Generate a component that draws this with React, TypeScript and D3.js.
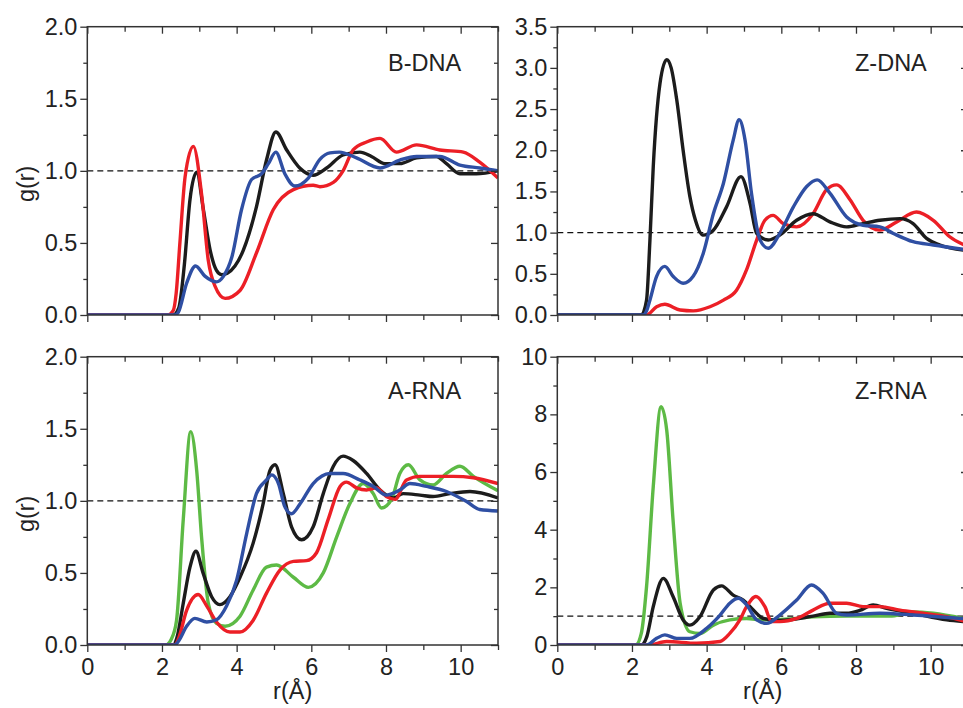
import React, { useRef, useEffect } from 'react';
import * as d3 from 'd3';

// g(r) curves as [r, g] pairs
const bdnaBlack = [[0,0],[2.3,0],[2.45,0.05],[2.6,0.35],[2.75,0.8],[2.93,0.99],[3.11,0.73],[3.29,0.45],[3.46,0.31],[3.6,0.28],[3.75,0.29],[4.18,0.45],[4.53,0.75],[4.8,1.075],[5.05,1.27],[5.34,1.145],[5.69,1.02],[6.05,0.97],[6.41,1.02],[6.85,1.11],[7.3,1.13],[7.61,1.1],[7.97,1.05],[8.37,1.05],[8.82,1.09],[9.35,1.1],[9.62,1.05],[9.98,0.98],[10.42,0.98],[11,1.0]];
const bdnaRed = [[0,0],[2.15,0],[2.3,0.03],[2.38,0.15],[2.48,0.5],[2.62,0.96],[2.84,1.17],[3.06,0.84],[3.24,0.38],[3.42,0.2],[3.69,0.115],[4.09,0.17],[4.53,0.43],[4.98,0.73],[5.52,0.87],[6.05,0.9],[6.23,0.89],[6.59,0.92],[6.85,1.0],[7.12,1.145],[7.48,1.2],[7.84,1.225],[8.28,1.13],[8.82,1.18],[9.44,1.145],[10.07,1.13],[10.51,1.06],[11,0.95]];
const bdnaBlue = [[0,0],[2.35,0],[2.44,0.02],[2.66,0.22],[2.9,0.34],[3.15,0.27],[3.46,0.23],[3.65,0.27],[3.87,0.4],[4.13,0.73],[4.4,0.94],[4.67,0.98],[4.85,1.05],[5.05,1.13],[5.29,0.98],[5.56,0.895],[5.92,0.95],[6.23,1.08],[6.5,1.125],[6.75,1.13],[7.21,1.09],[7.84,1.02],[8.37,1.075],[8.82,1.1],[9.44,1.1],[9.98,1.04],[10.51,1.02],[11,1.0]];

const zdnaBlack = [[0,0],[2.25,0],[2.39,0.18],[2.48,0.9],[2.57,1.8],[2.75,2.81],[2.93,3.1],[3.05,3.0],[3.2,2.61],[3.37,2.0],[3.55,1.44],[3.7,1.15],[3.9,0.97],[4.18,1.03],[4.53,1.31],[4.92,1.68],[5.16,1.36],[5.34,0.99],[5.65,0.91],[5.96,0.97],[6.41,1.15],[6.85,1.23],[7.3,1.13],[7.75,1.07],[8.19,1.11],[8.64,1.15],[9.18,1.17],[9.53,1.11],[9.89,0.93],[10.25,0.85],[11,0.78]];
const zdnaRed = [[0,0],[2.39,0],[2.66,0.1],[2.88,0.13],[3.29,0.06],[3.64,0.05],[4.09,0.1],[4.45,0.18],[4.8,0.3],[5.07,0.55],[5.34,0.91],[5.56,1.15],[5.78,1.21],[6.05,1.11],[6.41,1.07],[6.85,1.23],[7.21,1.52],[7.48,1.58],[7.84,1.4],[8.19,1.15],[8.64,1.03],[9.09,1.13],[9.62,1.25],[10.07,1.15],[10.51,0.95],[11,0.83]];
const zdnaBlue = [[0,0],[2.3,0],[2.39,0.05],[2.48,0.18],[2.66,0.47],[2.88,0.59],[3.1,0.47],[3.37,0.385],[3.64,0.47],[3.91,0.75],[4.18,1.23],[4.45,1.6],[4.71,2.12],[4.87,2.37],[5.03,2.12],[5.2,1.48],[5.43,0.91],[5.65,0.81],[5.96,0.99],[6.32,1.31],[6.68,1.56],[6.96,1.64],[7.3,1.48],[7.75,1.19],[8.19,1.09],[8.64,1.07],[9.0,0.99],[9.53,0.89],[10.07,0.85],[11,0.79]];

const arnaGreen = [[0,0],[2.1,0],[2.25,0.04],[2.39,0.17],[2.57,0.87],[2.77,1.48],[2.93,1.21],[3.06,0.75],[3.24,0.29],[3.46,0.15],[3.69,0.13],[4.09,0.2],[4.44,0.38],[4.8,0.54],[5.07,0.555],[5.52,0.47],[5.92,0.4],[6.32,0.5],[6.68,0.75],[7.03,0.98],[7.39,1.12],[7.66,1.05],[7.88,0.95],[8.15,1.01],[8.37,1.19],[8.6,1.25],[8.91,1.145],[9.26,1.11],[9.62,1.19],[9.98,1.24],[10.34,1.17],[11,1.07]];
const arnaBlack = [[0,0],[2.3,0],[2.4,0.05],[2.57,0.29],[2.75,0.54],[2.91,0.65],[3.1,0.5],[3.33,0.335],[3.55,0.28],[3.82,0.335],[4.09,0.47],[4.44,0.705],[4.71,0.98],[4.89,1.21],[5.03,1.25],[5.25,1.05],[5.47,0.82],[5.74,0.73],[6.05,0.82],[6.32,1.05],[6.59,1.24],[6.85,1.31],[7.12,1.28],[7.48,1.19],[7.84,1.075],[8.19,1.02],[8.46,1.05],[8.91,1.04],[9.26,1.03],[9.71,1.05],[10.25,1.065],[11,1.02]];
const arnaRed = [[0,0],[2.35,0],[2.45,0.05],[2.66,0.24],[2.97,0.35],[3.2,0.27],[3.46,0.16],[3.82,0.09],[4.09,0.09],[4.44,0.17],[4.8,0.36],[5.16,0.52],[5.52,0.58],[5.87,0.585],[6.14,0.64],[6.45,0.87],[6.77,1.1],[6.94,1.13],[7.21,1.09],[7.48,1.075],[7.75,1.09],[8.01,1.03],[8.24,1.01],[8.55,1.145],[8.91,1.17],[9.8,1.17],[10.34,1.16],[11,1.12]];
const arnaBlue = [[0,0],[2.35,0],[2.45,0.03],[2.66,0.13],[2.88,0.185],[3.2,0.16],[3.46,0.175],[3.73,0.27],[4.0,0.45],[4.27,0.775],[4.53,1.05],[4.8,1.145],[4.94,1.18],[5.12,1.12],[5.29,0.96],[5.47,0.91],[5.7,0.98],[6.05,1.12],[6.5,1.19],[6.85,1.19],[7.3,1.145],[7.66,1.1],[8.01,1.04],[8.37,1.075],[8.64,1.12],[9.09,1.1],[9.62,1.065],[10.16,0.995],[10.51,0.94],[11,0.93]];

const zrnaGreen = [[0,0],[2.1,0],[2.25,0.4],[2.39,2.02],[2.57,5.49],[2.78,8.27],[2.93,7.46],[3.1,4.34],[3.29,1.45],[3.55,0.46],[3.82,0.4],[4.18,0.69],[4.62,0.87],[5.07,0.92],[5.52,0.87],[6.2,0.9],[6.85,0.98],[7.75,1.0],[8.9,1.0],[9.53,1.15],[10.07,1.1],[11,0.88]];
const zrnaBlack = [[0,0],[2.25,0],[2.4,0.3],[2.57,1.33],[2.84,2.31],[3.1,1.68],[3.37,0.87],[3.55,0.69],[3.82,0.98],[4.18,1.91],[4.4,2.05],[4.71,1.73],[4.98,1.56],[5.25,1.21],[5.52,0.92],[5.96,0.85],[6.85,1.0],[7.3,1.1],[7.75,1.1],[8.1,1.2],[8.46,1.39],[8.82,1.27],[9.53,1.1],[10.43,0.87],[11,0.8]];
const zrnaRed = [[0,0],[2.43,0],[2.93,0.12],[3.73,0.06],[4.36,0.12],[4.62,0.4],[4.89,0.87],[5.07,1.33],[5.32,1.68],[5.56,1.33],[5.74,0.81],[5.96,0.81],[6.41,0.92],[6.85,1.21],[7.3,1.45],[7.75,1.45],[8.19,1.33],[8.64,1.33],[9.18,1.21],[9.8,1.1],[10.43,0.98],[11,0.8]];
const zrnaBlue = [[0,0],[2.39,0],[2.66,0.23],[2.88,0.35],[3.2,0.23],[3.55,0.23],[4.0,0.58],[4.36,1.04],[4.62,1.45],[4.85,1.62],[5.07,1.39],[5.34,0.87],[5.61,0.75],[5.96,1.04],[6.41,1.56],[6.81,2.08],[7.12,1.79],[7.48,1.1],[7.75,1.04],[8.64,1.1],[9.53,1.04],[11,0.9]];

const xMajor = [0, 2, 4, 6, 8, 10];
const xMinor = [1, 3, 5, 7, 9, 11];

const COLORS = { black: '#1c1c1c', red: '#ec1f26', blue: '#2f4fa3', green: '#5dba45' };
const FONT = "'Liberation Sans', Arial, sans-serif";
const FS = 23.5;

const panels = [
  { title: 'B-DNA', col: 0, row: 0, yMax: 2, yMajor: [0, 0.5, 1, 1.5, 2], yMinor: [0.25, 0.75, 1.25, 1.75], fmt: '.1f',
    lines: [[bdnaBlack, 'black'], [bdnaRed, 'red'], [bdnaBlue, 'blue']] },
  { title: 'Z-DNA', col: 1, row: 0, yMax: 3.5, yMajor: [0, 0.5, 1, 1.5, 2, 2.5, 3, 3.5], yMinor: [0.25, 0.75, 1.25, 1.75, 2.25, 2.75, 3.25], fmt: '.1f',
    lines: [[zdnaRed, 'red'], [zdnaBlack, 'black'], [zdnaBlue, 'blue']] },
  { title: 'A-RNA', col: 0, row: 1, yMax: 2, yMajor: [0, 0.5, 1, 1.5, 2], yMinor: [0.25, 0.75, 1.25, 1.75], fmt: '.1f',
    lines: [[arnaGreen, 'green'], [arnaBlack, 'black'], [arnaRed, 'red'], [arnaBlue, 'blue']] },
  { title: 'Z-RNA', col: 1, row: 1, yMax: 10, yMajor: [0, 2, 4, 6, 8, 10], yMinor: [1, 3, 5, 7, 9], fmt: 'd',
    lines: [[zrnaGreen, 'green'], [zrnaBlack, 'black'], [zrnaRed, 'red'], [zrnaBlue, 'blue']] },
];

export default function App() {
  const ref = useRef<SVGSVGElement>(null);

  useEffect(() => {
    const svg = d3.select(ref.current);
    svg.selectAll('*').remove();

    const colX = [87.3, 557.3];
    const rowY = [26.7, 356.7];
    const w = 410.7;
    const h = 288.3;
    const axisColor = '#333';

    panels.forEach((p, i) => {
      const x = d3.scaleLinear().domain([0, 11]).range([0, w]);
      const y = d3.scaleLinear().domain([0, p.yMax]).range([h, 0]);
      const g = svg.append('g').attr('transform', `translate(${colX[p.col]},${rowY[p.row]})`);

      g.append('clipPath').attr('id', `clip${i}`)
        .append('rect').attr('width', w).attr('height', h);

      // dashed g(r)=1 reference
      g.append('line')
        .attr('x1', 0).attr('x2', w).attr('y1', y(1)).attr('y2', y(1))
        .attr('stroke', '#111').attr('stroke-width', 1.4).attr('stroke-dasharray', '6,4');

      const line = d3.line<number[]>().x(d => x(d[0])).y(d => y(d[1])).curve(d3.curveMonotoneX);
      const curves = g.append('g').attr('clip-path', `url(#clip${i})`);
      p.lines.forEach(([data, c]) => {
        curves.append('path')
          .attr('d', line(data as number[][]))
          .attr('fill', 'none')
          .attr('stroke', COLORS[c as keyof typeof COLORS])
          .attr('stroke-width', 3.4)
          .attr('stroke-linejoin', 'round');
      });

      const styleAxis = (sel: any) => {
        sel.select('.domain').remove();
        sel.selectAll('line').attr('stroke', axisColor).attr('stroke-width', 1.3);
        sel.selectAll('text').attr('font-family', FONT).attr('font-size', FS).attr('fill', '#222');
      };

      // bottom
      g.append('g').attr('transform', `translate(0,${h})`)
        .call(d3.axisBottom(x).tickValues(xMajor).tickSize(7).tickPadding(6.5)
          .tickFormat(p.row === 1 ? d3.format('d') : () => ''))
        .call(styleAxis);
      g.append('g').attr('transform', `translate(0,${h})`)
        .call(d3.axisBottom(x).tickValues(xMinor).tickSize(5).tickFormat(() => ''))
        .call(styleAxis);
      // top (inward)
      g.append('g').call(d3.axisTop(x).tickValues(xMajor).tickSize(-7).tickFormat(() => '')).call(styleAxis);
      g.append('g').call(d3.axisTop(x).tickValues(xMinor).tickSize(-5).tickFormat(() => '')).call(styleAxis);
      // left
      g.append('g')
        .call(d3.axisLeft(y).tickValues(p.yMajor).tickSize(7).tickPadding(3).tickFormat(d3.format(p.fmt)))
        .call(styleAxis);
      g.append('g').call(d3.axisLeft(y).tickValues(p.yMinor).tickSize(4).tickFormat(() => '')).call(styleAxis);
      // right (inward)
      g.append('g').attr('transform', `translate(${w},0)`)
        .call(d3.axisRight(y).tickValues(p.yMajor).tickSize(-7).tickFormat(() => '')).call(styleAxis);
      g.append('g').attr('transform', `translate(${w},0)`)
        .call(d3.axisRight(y).tickValues(p.yMinor).tickSize(-4).tickFormat(() => '')).call(styleAxis);

      g.append('rect').attr('width', w).attr('height', h)
        .attr('fill', 'none').attr('stroke', axisColor).attr('stroke-width', 1.5);

      g.append('text')
        .attr('x', p.col === 0 ? 300.7 : 297.7).attr('y', p.row === 0 ? 44 : 42.3)
        .attr('font-family', FONT).attr('font-size', FS).attr('fill', '#222')
        .text(p.title);

      if (p.col === 0) {
        g.append('text')
          .attr('transform', `translate(${-61},${h / 2 + 13}) rotate(-90)`)
          .attr('text-anchor', 'middle').attr('dominant-baseline', 'central')
          .attr('font-family', FONT).attr('font-size', FS).attr('fill', '#222')
          .text('g(r)');
      }
      if (p.row === 1) {
        g.append('text')
          .attr('x', w / 2).attr('y', h + 54)
          .attr('text-anchor', 'middle')
          .attr('font-family', FONT).attr('font-size', FS).attr('fill', '#222')
          .text('r(Å)');
      }
    });
  }, []);

  return (
    <svg ref={ref} width={963} height={708}
      style={{ position: 'absolute', left: 0, top: 0, background: '#fff' }} />
  );
}
